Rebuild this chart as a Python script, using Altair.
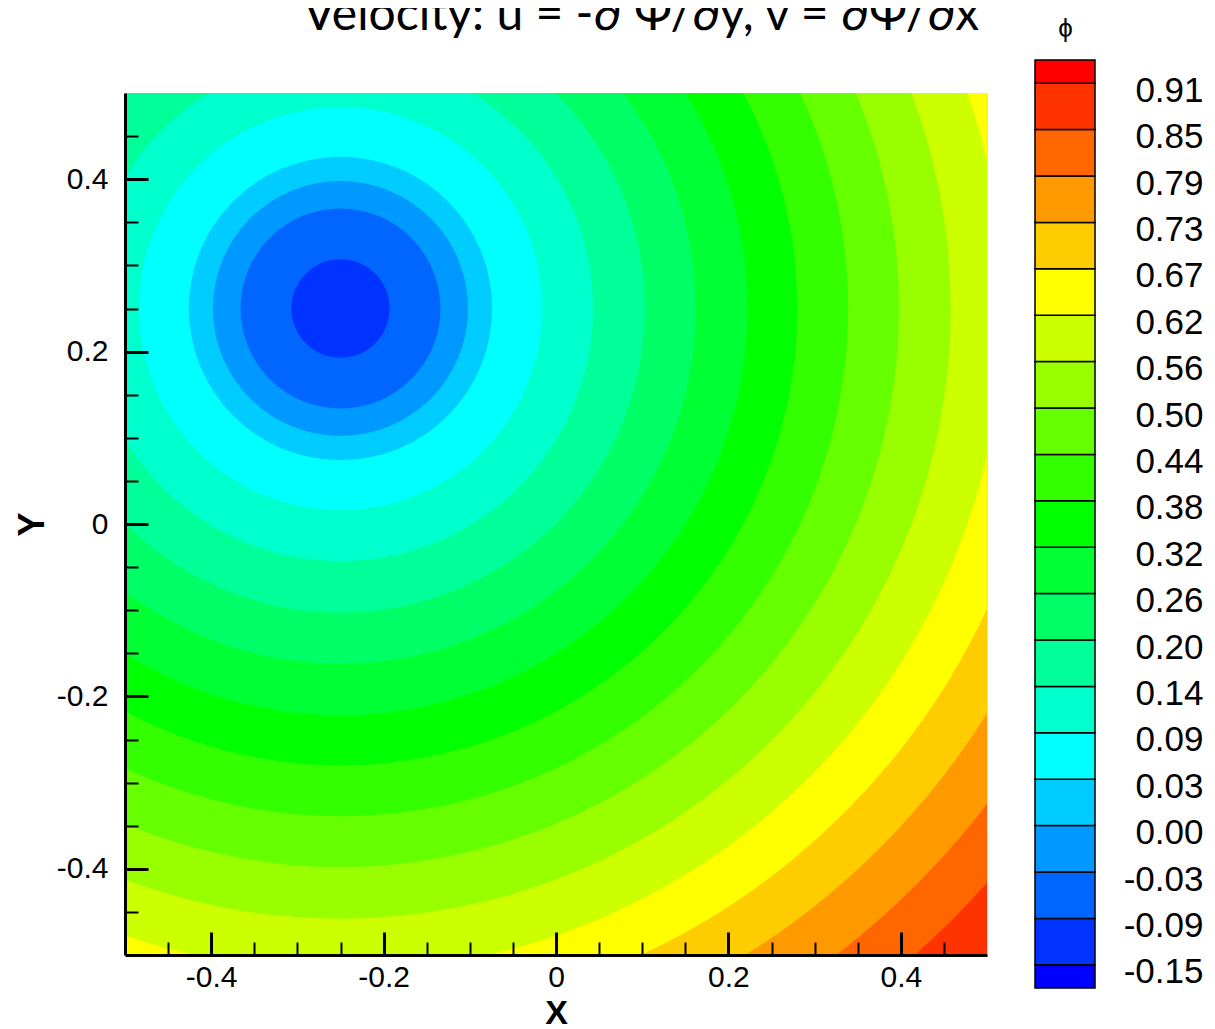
import json
import altair as alt
import pandas as pd

title_text = "Velocity: u = -\u2202 \u03a8/\u2202y, v = \u2202\u03a8/\u2202x"
legend_title = "\u03d5"

# contour levels on the colour bar (bottom to top)
levels = [-0.15, -0.09, -0.03, 0.00, 0.03, 0.09, 0.14, 0.20, 0.26, 0.32,
          0.38, 0.44, 0.50, 0.56, 0.62, 0.67, 0.73, 0.79, 0.85, 0.91]
level_labels = ["-0.15", "-0.09", "-0.03", "0.00", "0.03", "0.09", "0.14",
                "0.20", "0.26", "0.32", "0.38", "0.44", "0.50", "0.56",
                "0.62", "0.67", "0.73", "0.79", "0.85", "0.91"]
# colour of each band: below -0.15, between successive levels, above 0.91
band_colors = ["#0000FF", "#0033FF", "#0066FF", "#0099FF", "#00CCFF",
               "#00FFFF", "#00FFCC", "#00FF99", "#00FF66", "#00FF33",
               "#00FF00", "#33FF00", "#66FF00", "#99FF00", "#CCFF00",
               "#FFFF00", "#FFCC00", "#FF9900", "#FF6600", "#FF3300",
               "#FF0000"]

# contour lines: radius (x/y units) of each level line
ring_levels = levels[1:]
ring_radius = [0.057, 0.116, 0.148, 0.176, 0.234, 0.293, 0.353, 0.412,
               0.472, 0.530, 0.589, 0.648, 0.708, 0.769, 0.827, 0.885,
               0.945, 1.003, 1.063]
ring_center_x = -0.25
ring_center_y = 0.25

major_ticks = [-0.4, -0.2, 0.0, 0.2, 0.4]
minor_ticks = [-0.45, -0.35, -0.3, -0.25, -0.15, -0.1, -0.05,
               0.05, 0.1, 0.15, 0.25, 0.3, 0.35, 0.45]

W = 862
H = 862
PPU = W / 1.0  # pixels per x/y unit (domain width is 1)

rings = pd.DataFrame({
    "level": ring_levels,
    "r": ring_radius,
    "color": band_colors[1:20],
    "cx": [ring_center_x] * len(ring_levels),
    "cy": [ring_center_y] * len(ring_levels),
})

bar = pd.DataFrame({
    "lo": [-0.5] + list(range(0, 20)),
    "hi": list(range(0, 20)) + [19.5],
    "color": band_colors,
    "x0": [0.0] * 21,
    "x1": [1.0] * 21,
})

FONT = "Liberation Sans, Arial, sans-serif"


def main_scale():
    return alt.Scale(domain=[-0.5, 0.5], nice=False, zero=False)


label_expr = ("datum.value == 0 ? '0' : (datum.value < 0 ? '-' + format(-datum.value, '.1f')"
              " : format(datum.value, '.1f'))")

discs = alt.Chart(rings).mark_circle(opacity=1, clip=True).encode(
    x=alt.X("cx:Q", scale=main_scale(),
            axis=alt.Axis(orient="bottom", title="X", ticks=False, labels=False, grid=False,
                          domain=True, domainColor="black", domainWidth=3, zindex=1,
                          titleFont=FONT, titleFontSize=34, titleFontWeight="bold",
                          titleColor="black", titleX=W / 2, titleY=68,
                          titleAlign="center", titleBaseline="alphabetic")),
    y=alt.Y("cy:Q", scale=main_scale(),
            axis=alt.Axis(orient="left", title="Y", ticks=False, labels=False, grid=False,
                          domain=True, domainColor="black", domainWidth=3, zindex=1,
                          titleFont=FONT, titleFontSize=36, titleFontWeight="bold",
                          titleColor="black", titleX=-93, titleY=H / 2, titleAngle=270,
                          titleAlign="center", titleBaseline="middle")),
    # Vega symbol size is the area of the bounding square: (2 * radius_px)^2
    size=alt.Size("r:Q", scale=alt.Scale(type="pow", exponent=2, domain=[0, 1],
                                         range=[0, 4 * PPU * PPU]), legend=None),
    color=alt.Color("color:N", scale=None),
    order=alt.Order("r:Q", sort="descending"),
)

major = alt.Chart(rings).mark_point(opacity=0).encode(
    x=alt.X("cx:Q", scale=main_scale(),
            axis=alt.Axis(orient="bottom", values=major_ticks, offset=-23, tickSize=23,
                          tickWidth=3, tickColor="black", domain=False, grid=False, zindex=1,
                          labelFont=FONT, labelFontSize=30, labelColor="black",
                          labelPadding=7, labelExpr=label_expr, title=None)),
    y=alt.Y("cy:Q", scale=main_scale(),
            axis=alt.Axis(orient="left", values=major_ticks, offset=-23, tickSize=23,
                          tickWidth=3, tickColor="black", domain=False, grid=False, zindex=1,
                          labelFont=FONT, labelFontSize=30, labelColor="black",
                          labelPadding=17, labelExpr=label_expr, title=None)),
)

minor = alt.Chart(rings).mark_point(opacity=0).encode(
    x=alt.X("cx:Q", scale=main_scale(),
            axis=alt.Axis(orient="bottom", values=minor_ticks, offset=-13, tickSize=13,
                          tickWidth=2, tickColor="black", domain=False, grid=False, zindex=1,
                          labels=False, title=None)),
    y=alt.Y("cy:Q", scale=main_scale(),
            axis=alt.Axis(orient="left", values=minor_ticks, offset=-13, tickSize=13,
                          tickWidth=2, tickColor="black", domain=False, grid=False, zindex=1,
                          labels=False, title=None)),
)

colorbar = alt.Chart(bar).mark_rect(stroke="black", strokeWidth=1.5).encode(
    x=alt.X("x0:Q", scale=alt.Scale(domain=[0, 1], range=[910, 970], nice=False, zero=False),
            axis=None),
    x2="x1:Q",
    y=alt.Y("lo:Q", scale=alt.Scale(domain=[-0.5, 19.5], range=[895, -33], nice=False, zero=False),
            axis=alt.Axis(orient="right", values=list(range(20)), ticks=False, tickSize=0,
                          domain=False, grid=False, labelFont=FONT, labelFontSize=35,
                          labelColor="black", labelAlign="right", labelBaseline="middle",
                          labelPadding=216, labelOffset=7,
                          labelExpr=json.dumps(level_labels) + "[datum.value]",
                          title=legend_title, titleAngle=0, titleX=78, titleY=-65,
                          titleAlign="center", titleBaseline="middle", titleFont=FONT,
                          titleFontSize=26, titleFontWeight="normal", titleColor="black")),
    y2="hi:Q",
    color=alt.Color("color:N", scale=None),
)

chart = alt.layer(discs, major, minor, colorbar).resolve_scale(
    x="independent", y="independent"
).properties(
    width=W,
    height=H,
    autosize=alt.AutoSizeParams(type="none"),
    padding={"left": 117, "top": 85, "right": 220, "bottom": 74},
    title=alt.TitleParams(text=title_text, fontSize=48,
                          font="Liberation Sans Narrow, Lato, sans-serif",
                          fontWeight="normal", anchor="middle", dx=85, dy=63, offset=0,
                          baseline="alphabetic", color="black"),
).configure_view(stroke="#cc0000", strokeWidth=3, fill=band_colors[-1]).configure(
    background="white")

chart.save("out.html", embed_options={"renderer": "svg", "actions": False})
